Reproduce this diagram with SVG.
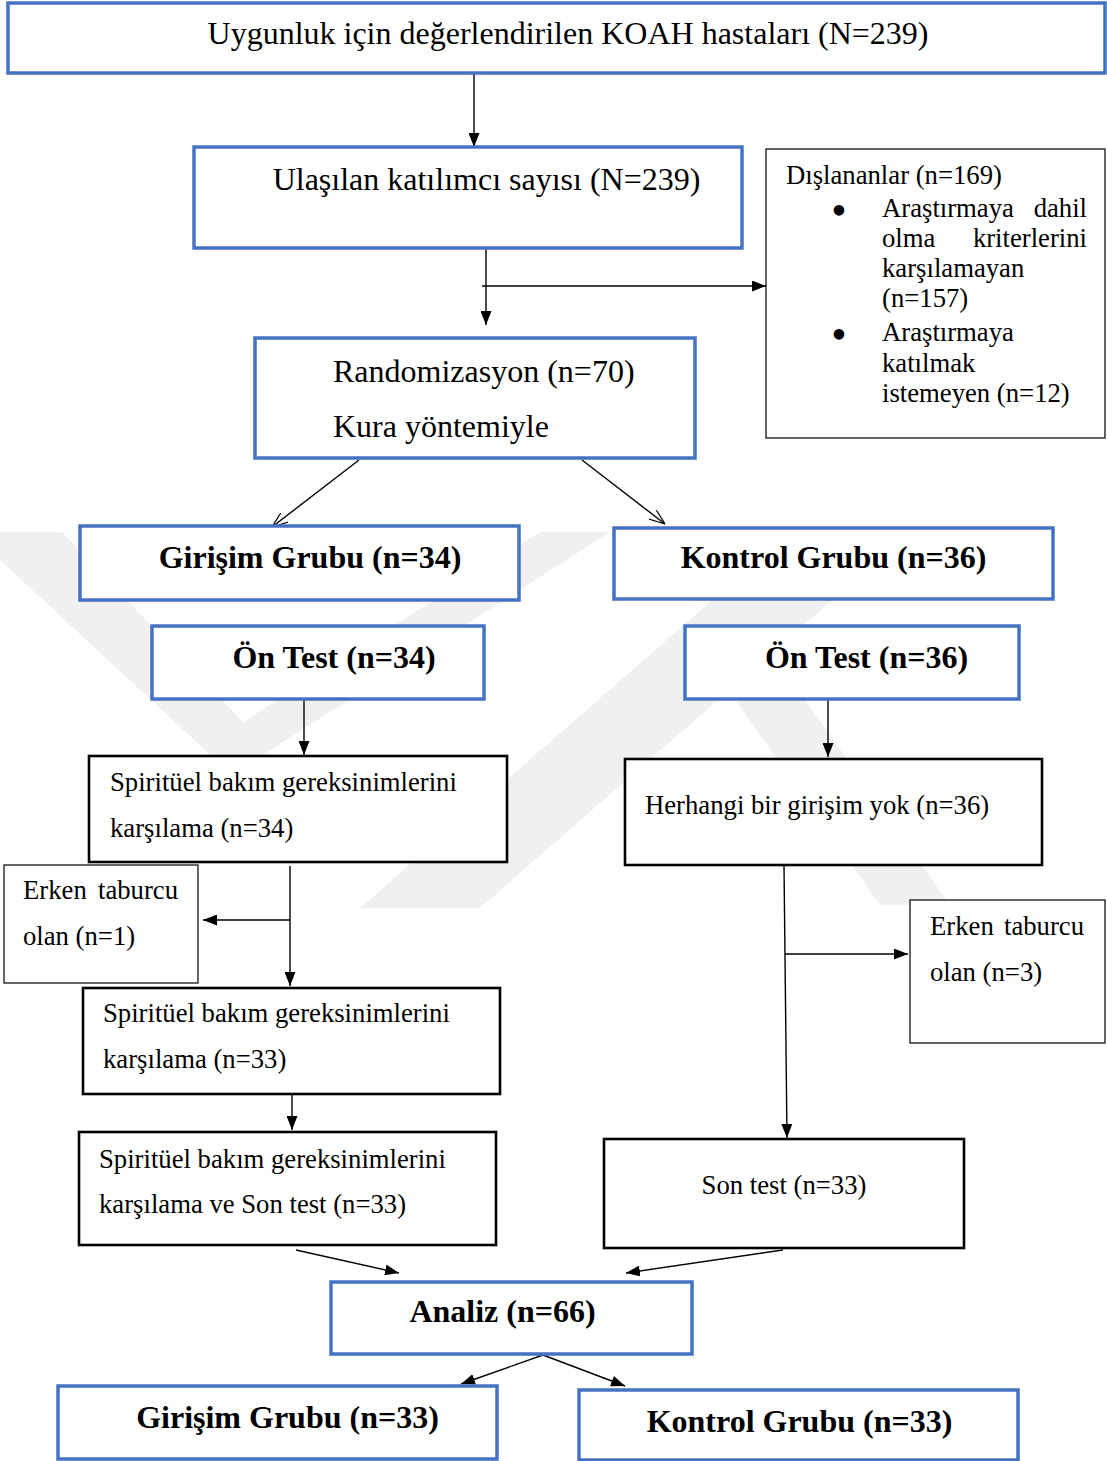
<svg xmlns="http://www.w3.org/2000/svg" width="1107" height="1461" viewBox="0 0 1107 1461">
<style>
.bg{fill:#ffffff}
.wm{fill:#f0f0f0}
.blue{fill:#ffffff;stroke:#4472c4;stroke-width:3.5}
.blk{fill:#ffffff;stroke:#000000;stroke-width:2.6}
.thin{fill:#ffffff;stroke:#000000;stroke-width:1.2}
text{font-family:"Liberation Serif","Times New Roman",serif;fill:#000000}
.L{font-size:32px}
.B{font-size:32px;font-weight:bold}
.S{font-size:26.7px}
.bul{font-size:44px;text-anchor:middle}
.c{text-anchor:middle}
.e{text-anchor:end}
.ln{stroke:#000000;stroke-width:1.4;fill:none}
.fa{marker-end:url(#fa)}
.oa{marker-end:url(#oa)}
</style>
<defs>
<marker id="fa" viewBox="0 0 14 11" refX="14" refY="5.5" markerWidth="14" markerHeight="11" markerUnits="userSpaceOnUse" orient="auto">
<path d="M0,0 L14,5.5 L0,11 Z" fill="#000000"/>
</marker>
<marker id="oa" viewBox="0 0 16 12" refX="16" refY="6" markerWidth="16" markerHeight="12" markerUnits="userSpaceOnUse" orient="auto">
<path d="M0,0 L16,6 L0,12" fill="none" stroke="#000000" stroke-width="1.2"/>
</marker>
</defs>
<rect class="bg" x="0" y="0" width="1107" height="1461"/>
<g id="watermark">
<polygon class="wm" points="0,532 62,532 243,722 540,532 610,532 232,775 0,560"/>
<polygon class="wm" points="790,532 910,532 480,908 360,908"/>
<polygon class="wm" points="700,650 770,650 950,905 880,905"/>
</g>
<g id="connectors">
<line class="ln fa" x1="474" y1="73" x2="474" y2="147"/>
<line class="ln fa" x1="486" y1="249" x2="486" y2="325"/>
<line class="ln fa" x1="482" y1="286" x2="766" y2="286"/>
<line class="ln oa" x1="359" y1="460" x2="272" y2="527"/>
<line class="ln oa" x1="582" y1="460" x2="665" y2="524"/>
<line class="ln fa" x1="304" y1="699" x2="304" y2="755"/>
<line class="ln fa" x1="828" y1="700" x2="828" y2="757"/>
<line class="ln fa" x1="290" y1="866" x2="290" y2="986"/>
<line class="ln fa" x1="290" y1="920" x2="203" y2="920"/>
<line class="ln fa" x1="292" y1="1094" x2="292" y2="1130"/>
<line class="ln fa" x1="784" y1="866" x2="787" y2="1138"/>
<line class="ln fa" x1="785" y1="954" x2="908" y2="954"/>
<line class="ln fa" x1="296" y1="1250" x2="399" y2="1273"/>
<line class="ln fa" x1="783" y1="1250" x2="626" y2="1273"/>
<line class="ln fa" x1="543" y1="1355" x2="461" y2="1384"/>
<line class="ln fa" x1="543" y1="1355" x2="625" y2="1386"/>
</g>
<g id="n-assessed">
<rect class="blue" x="8" y="3" width="1097" height="70"/>
<text class="L c" x="568" y="44">Uygunluk için değerlendirilen KOAH hastaları (N=239)</text>
</g>
<g id="n-reached">
<rect class="blue" x="194" y="147" width="548" height="101"/>
<text class="L c" x="486.5" y="190">Ulaşılan katılımcı sayısı (N=239)</text>
</g>
<g id="n-excluded">
<rect class="thin" x="766" y="149" width="339" height="289"/>
<text class="S" x="786" y="184">Dışlananlar (n=169)</text>
<text class="bul" x="839" y="225">•</text>
<text class="S"><tspan x="882" y="217">Araştırmaya</tspan><tspan class="e" x="1087" y="217">dahil</tspan></text>
<text class="S"><tspan x="882" y="247">olma</tspan><tspan class="e" x="1087" y="247">kriterlerini</tspan></text>
<text class="S" x="882" y="277">karşılamayan</text>
<text class="S" x="882" y="307">(n=157)</text>
<text class="bul" x="839" y="349">•</text>
<text class="S" x="882" y="341">Araştırmaya</text>
<text class="S" x="882" y="372">katılmak</text>
<text class="S" x="882" y="402">istemeyen (n=12)</text>
</g>
<g id="n-random">
<rect class="blue" x="255" y="338" width="440" height="120"/>
<text class="L" x="333" y="382">Randomizasyon (n=70)</text>
<text class="L" x="333" y="437">Kura yöntemiyle</text>
</g>
<g id="n-girisim34">
<rect class="blue" x="80" y="526" width="439" height="74"/>
<text class="B c" x="310" y="568">Girişim Grubu (n=34)</text>
</g>
<g id="n-kontrol36">
<rect class="blue" x="614" y="528" width="439" height="71"/>
<text class="B c" x="833.5" y="568">Kontrol Grubu (n=36)</text>
</g>
<g id="n-ontest34">
<rect class="blue" x="152" y="626" width="332" height="73"/>
<text class="B c" x="334" y="668">Ön Test (n=34)</text>
</g>
<g id="n-ontest36">
<rect class="blue" x="685" y="626" width="334" height="73"/>
<text class="B c" x="866.5" y="668">Ön Test (n=36)</text>
</g>
<g id="n-spirit34">
<rect class="blk" x="89" y="756" width="418" height="106"/>
<text class="S" x="110" y="791">Spiritüel bakım gereksinimlerini</text>
<text class="S" x="110" y="837">karşılama (n=34)</text>
</g>
<g id="n-herhangi">
<rect class="blk" x="625" y="759" width="417" height="106"/>
<text class="S" x="645" y="814">Herhangi bir girişim yok (n=36)</text>
</g>
<g id="n-erken1">
<rect class="thin" x="4" y="865" width="194" height="118"/>
<text class="S"><tspan x="23" y="899">Erken</tspan><tspan class="e" x="178" y="899">taburcu</tspan></text>
<text class="S" x="23" y="945">olan (n=1)</text>
</g>
<g id="n-spirit33">
<rect class="blk" x="83" y="988" width="417" height="106"/>
<text class="S" x="103" y="1022">Spiritüel bakım gereksinimlerini</text>
<text class="S" x="103" y="1068">karşılama (n=33)</text>
</g>
<g id="n-spirit-son">
<rect class="blk" x="79" y="1132" width="417" height="113"/>
<text class="S" x="99" y="1168">Spiritüel bakım gereksinimlerini</text>
<text class="S" x="99" y="1213">karşılama ve Son test (n=33)</text>
</g>
<g id="n-erken3">
<rect class="thin" x="910" y="900" width="195" height="143"/>
<text class="S"><tspan x="930" y="935">Erken</tspan><tspan class="e" x="1084" y="935">taburcu</tspan></text>
<text class="S" x="930" y="981">olan (n=3)</text>
</g>
<g id="n-sontest">
<rect class="blk" x="604" y="1139" width="360" height="109"/>
<text class="S c" x="784" y="1194">Son test (n=33)</text>
</g>
<g id="n-analiz">
<rect class="blue" x="331" y="1282" width="361" height="72"/>
<text class="B c" x="502.5" y="1322">Analiz (n=66)</text>
</g>
<g id="n-girisim33">
<rect class="blue" x="58" y="1386" width="439" height="73"/>
<text class="B c" x="287.5" y="1428">Girişim Grubu (n=33)</text>
</g>
<g id="n-kontrol33">
<rect class="blue" x="579" y="1390" width="439" height="70"/>
<text class="B c" x="799.5" y="1432">Kontrol Grubu (n=33)</text>
</g>
</svg>
